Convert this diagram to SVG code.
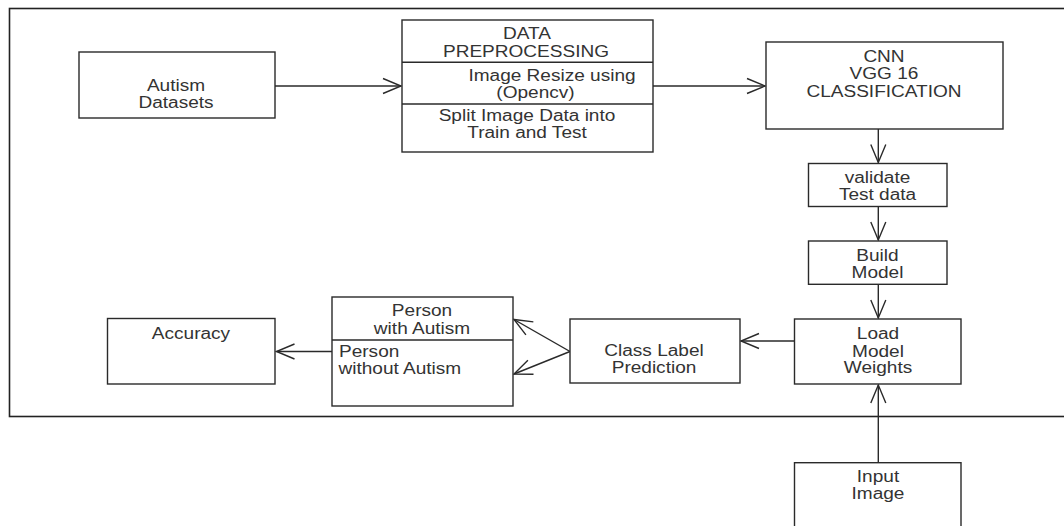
<svg xmlns="http://www.w3.org/2000/svg" width="1064" height="526" viewBox="0 0 1064 526">
<style>
.box{fill:#fff;stroke:#2a2a2a;stroke-width:1.4}
.frame{fill:none;stroke:#222;stroke-width:1.6}
.div{stroke:#2a2a2a;stroke-width:1.4}
.c{fill:none;stroke:#2a2a2a;stroke-width:1.4}
text{font-family:"Liberation Sans",Arial,sans-serif;font-size:16px;fill:#333;text-anchor:middle}
text.l{text-anchor:start}
</style>
<defs>
<marker id="ah" markerUnits="userSpaceOnUse" markerWidth="24" markerHeight="20" refX="0" refY="0" viewBox="-20 -10 24 20" orient="auto" overflow="visible">
<path d="M-18,-7.5 L0,0 L-18,7.5" fill="none" stroke="#2a2a2a" stroke-width="1.4"/>
</marker>
</defs>
<rect width="1064" height="526" fill="#fff"/>
<rect class="frame" x="9.5" y="8.5" width="1070" height="408"/>
<g id="connectors">
<line class="c" x1="275" y1="86" x2="401" y2="86" marker-end="url(#ah)"/>
<line class="c" x1="653" y1="86" x2="765" y2="86" marker-end="url(#ah)"/>
<line class="c" x1="878.3" y1="129" x2="878.3" y2="162.5" marker-end="url(#ah)"/>
<line class="c" x1="878.3" y1="206.7" x2="878.3" y2="240" marker-end="url(#ah)"/>
<line class="c" x1="878.3" y1="284.3" x2="878.3" y2="318" marker-end="url(#ah)"/>
<line class="c" x1="878.3" y1="462.7" x2="878.3" y2="385" marker-end="url(#ah)"/>
<line class="c" x1="794.5" y1="341" x2="741" y2="341" marker-end="url(#ah)"/>
<line class="c" x1="570" y1="351.5" x2="514" y2="319.5" marker-end="url(#ah)"/>
<line class="c" x1="570" y1="351.5" x2="514" y2="374" marker-end="url(#ah)"/>
<line class="c" x1="332" y1="351.5" x2="276.5" y2="351.5" marker-end="url(#ah)"/>
</g>
<g id="autism-datasets">
<rect class="box" x="79" y="52" width="196" height="66"/>
<text transform="translate(176 90.5) scale(1.19 1)">Autism</text>
<text transform="translate(176 107.5) scale(1.19 1)">Datasets</text>
</g>
<g id="data-preprocessing">
<rect class="box" x="402" y="20" width="251" height="132"/>
<line class="div" x1="402" y1="62.3" x2="653" y2="62.3"/>
<line class="div" x1="402" y1="104" x2="653" y2="104"/>
<text transform="translate(527 39) scale(1.19 1)">DATA</text>
<text transform="translate(526 56.7) scale(1.19 1)">PREPROCESSING</text>
<text transform="translate(552 81) scale(1.19 1)">Image Resize using</text>
<text transform="translate(535.5 97.5) scale(1.19 1)">(Opencv)</text>
<text transform="translate(527 120.7) scale(1.19 1)">Split Image Data into</text>
<text transform="translate(527 138.3) scale(1.19 1)">Train and Test</text>
</g>
<g id="cnn">
<rect class="box" x="766" y="42" width="237" height="87"/>
<text transform="translate(884 61.7) scale(1.19 1)">CNN</text>
<text transform="translate(884 79.3) scale(1.19 1)">VGG 16</text>
<text transform="translate(884 96.7) scale(1.19 1)">CLASSIFICATION</text>
</g>
<g id="validate">
<rect class="box" x="808.5" y="163.5" width="138.5" height="43"/>
<text transform="translate(877.5 183.3) scale(1.19 1)">validate</text>
<text transform="translate(877.5 200) scale(1.19 1)">Test data</text>
</g>
<g id="build-model">
<rect class="box" x="808.5" y="241" width="138.5" height="43.3"/>
<text transform="translate(877.5 261) scale(1.19 1)">Build</text>
<text transform="translate(877.5 278.3) scale(1.19 1)">Model</text>
</g>
<g id="load-model-weights">
<rect class="box" x="794.5" y="319" width="166.5" height="65"/>
<text transform="translate(878 339) scale(1.19 1)">Load</text>
<text transform="translate(878 356.5) scale(1.19 1)">Model</text>
<text transform="translate(878 373) scale(1.19 1)">Weights</text>
</g>
<g id="input-image">
<rect class="box" x="794.5" y="462.7" width="166.5" height="80"/>
<text transform="translate(878 481.5) scale(1.19 1)">Input</text>
<text transform="translate(878 498.7) scale(1.19 1)">Image</text>
</g>
<g id="class-label-prediction">
<rect class="box" x="570" y="319" width="170" height="64"/>
<text transform="translate(654 356) scale(1.19 1)">Class Label</text>
<text transform="translate(654 373) scale(1.19 1)">Prediction</text>
</g>
<g id="person">
<rect class="box" x="332" y="297" width="181" height="109"/>
<line class="div" x1="332" y1="340" x2="513" y2="340"/>
<text transform="translate(422 316) scale(1.19 1)">Person</text>
<text transform="translate(422 334) scale(1.19 1)">with Autism</text>
<text class="l" transform="translate(339 356.7) scale(1.19 1)">Person</text>
<text class="l" transform="translate(338.5 374.3) scale(1.19 1)">without Autism</text>
</g>
<g id="accuracy">
<rect class="box" x="107.5" y="318.5" width="167.5" height="65.5"/>
<text transform="translate(191 338.5) scale(1.19 1)">Accuracy</text>
</g>
</svg>
